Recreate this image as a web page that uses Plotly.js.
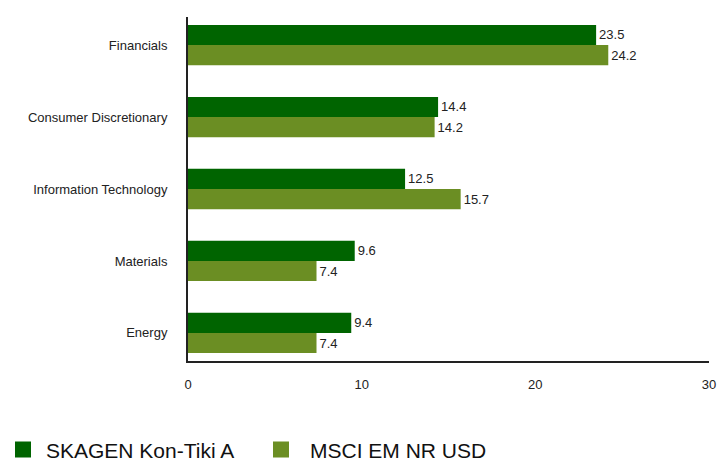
<!DOCTYPE html>
<html><head><meta charset="utf-8">
<script src="https://cdn.plot.ly/plotly-3.0.1.min.js"></script>
<style>body{margin:0;background:#fff}#c{width:717px;height:461px}</style>
</head><body><div id="c"></div>
<script>
const categories = ["Financials","Consumer Discretionary","Information Technology","Materials","Energy"];
const seriesNames = ["SKAGEN Kon-Tiki A","MSCI EM NR USD"];
const fundValues = [23.5,14.4,12.5,9.6,9.4];
const indexValues = [24.2,14.2,15.7,7.4,7.4];
const xTicks = [0,10,20,30];
const colors = ["#006400","#6B8E23"];

const font = {family:"Liberation Sans, Arial, sans-serif", size:13, color:"#222"};
function barTrace(name, vals, color){
  return {type:"bar", orientation:"h", name:name, x:vals, y:categories,
    marker:{color:color}, text:vals.map(v=>v.toFixed(1)), textposition:"outside",
    textfont:{family:font.family,size:13,color:"#222"}, cliponaxis:false,
    showlegend:false, hoverinfo:"x+y"};
}
function legendTrace(name,color,leg){
  return {type:"scatter", mode:"markers", name:name, x:[null], y:[null], legend:leg,
    marker:{symbol:"square", size:18, color:color}, showlegend:true};
}
const data = [barTrace(seriesNames[0],fundValues,colors[0]), barTrace(seriesNames[1],indexValues,colors[1]),
  legendTrace(seriesNames[0],colors[0],"legend"), legendTrace(seriesNames[1],colors[1],"legend2")];
const legBase = {orientation:"h", xref:"paper", yref:"container", y:0.024, xanchor:"left", yanchor:"middle",
    font:{family:font.family,size:21,color:"#111"}, bgcolor:"rgba(0,0,0,0)"};
const layout = {
  width:717, height:461, margin:{l:188,r:8,t:17,b:100},
  paper_bgcolor:"#fff", plot_bgcolor:"#fff", font:font,
  barmode:"group", bargap:0.44, bargroupgap:0,
  xaxis:{range:[0,30], tickvals:xTicks, ticktext:xTicks.map(String), showgrid:false, zeroline:false,
    showline:true, linecolor:"#222", linewidth:2, ticks:"", ticklabelstandoff:10, fixedrange:true},
  yaxis:{type:"category", categoryorder:"array", categoryarray:categories, range:[4.39,-0.39],
    showgrid:false, zeroline:false, showline:true, linecolor:"#222", linewidth:2, ticks:"",
    ticklabelstandoff:16, fixedrange:true},
  showlegend:true,
  legend:Object.assign({}, legBase, {x:-188/521, itemwidth:36}),
  legend2:Object.assign({}, legBase, {x:64/521, itemwidth:48})
};
Plotly.newPlot("c", data, layout, {displayModeBar:false, staticPlot:true});
</script></body></html>
